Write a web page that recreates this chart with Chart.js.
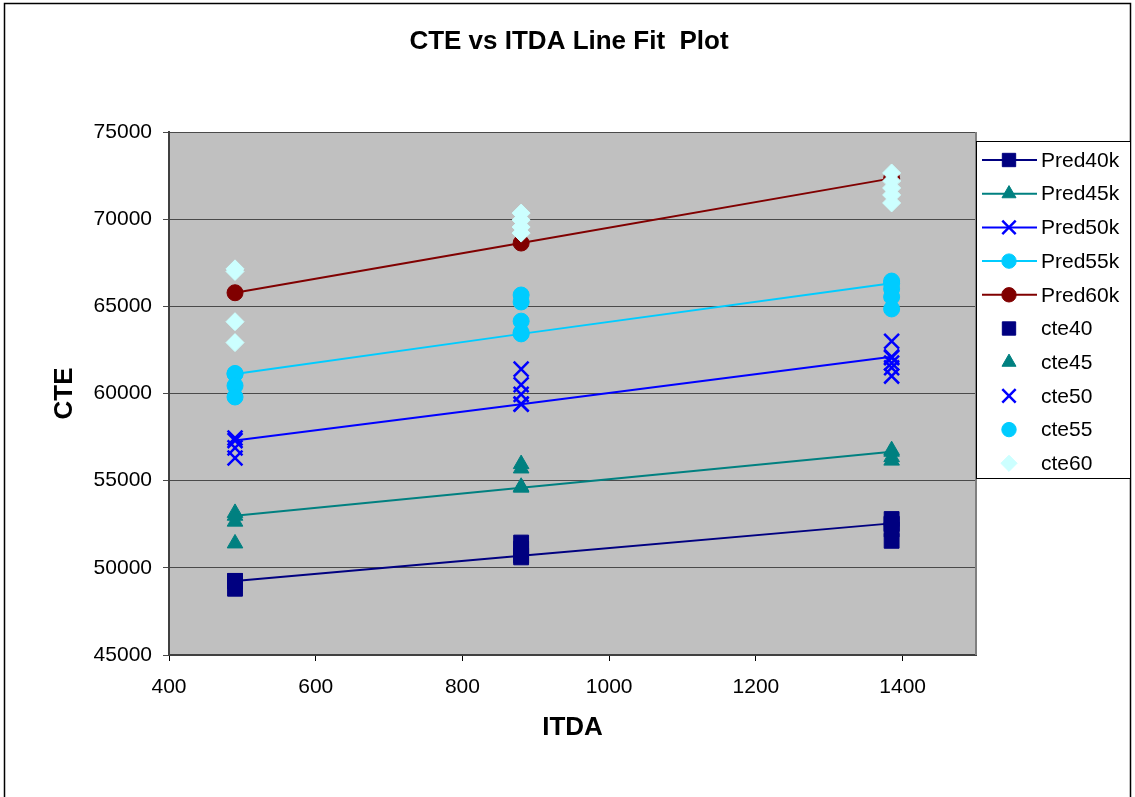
<!DOCTYPE html>
<html>
<head>
<meta charset="utf-8">
<script src="https://cdn.jsdelivr.net/npm/chart.js@4"></script>
<style>
  html, body { margin: 0; padding: 0; background: #fff; }
  #wrap { width: 1135px; height: 797px; }
</style>
</head>
<body>
<div id="wrap"><canvas id="cteChart"></canvas></div>
<script>
// ITDA values the samples were taken at
const itda = [490, 880, 1385];

// observed CTE, one list per ITDA column
const cte40 = [[49250, 48800], [51450, 51100, 50600], [52800, 52500, 52200, 51550]];
const cte45 = [[53150, 52650, 51400], [55950, 55700, 54650], [56750, 56350, 56150]];
const cte50 = [[57450, 56880, 56300], [61400, 60500, 59950, 59400], [63000, 62050, 61750, 61480, 61000]];
const cte55 = [[61150, 60450, 59800], [65650, 65250, 64150, 63500], [66450, 66000, 65540, 64850]];
const cte60 = [[67150, 67000, 64120, 62920], [70350, 69950, 69550, 69200], [72650, 72190, 71790, 71390, 70930]];

// fitted line values at each ITDA
const pred40 = [49250, 50700, 52550];
const pred45 = [52990, 54600, 56660];
const pred50 = [57300, 59380, 62110];
const pred55 = [61120, 63420, 66320];
const pred60 = [65780, 68630, 72340];

const xTicks = [400, 600, 800, 1000, 1200, 1400];
const yTicks = [45000, 50000, 55000, 60000, 65000, 70000, 75000];

const FONT = "'Liberation Sans', Arial, sans-serif";

const obs = cols => itda.flatMap((x, i) => cols[i].map(y => ({ x: x, y: y })));
const fit = vals => itda.map((x, i) => ({ x: x, y: vals[i] }));

function predSet(label, vals, color, style, r, bw) {
  return {
    label: label, data: fit(vals), showLine: true, order: 1,
    borderColor: color, backgroundColor: color, borderWidth: 2,
    pointStyle: style, pointRadius: r, pointBorderWidth: bw,
    pointBackgroundColor: color, pointBorderColor: color
  };
}
function cteSet(label, cols, color, style, r, bw) {
  return {
    label: label, data: obs(cols), showLine: false, order: 0,
    borderColor: color, backgroundColor: color,
    pointStyle: style, pointRadius: r, pointBorderWidth: bw,
    pointBackgroundColor: color, pointBorderColor: color
  };
}

const datasets = [
  predSet('Pred40k', pred40, '#000080', 'rect', 10.5, 1),
  predSet('Pred45k', pred45, '#008080', 'triangle', 9, 1),
  predSet('Pred50k', pred50, '#0000FF', 'crossRot', 10.5, 2.5),
  predSet('Pred55k', pred55, '#00CCFF', 'circle', 8, 1),
  predSet('Pred60k', pred60, '#800000', 'circle', 8, 1),
  cteSet('cte40', cte40, '#000080', 'rect', 10.5, 1),
  cteSet('cte45', cte45, '#008080', 'triangle', 9, 1),
  cteSet('cte50', cte50, '#0000FF', 'crossRot', 10.5, 2.5),
  cteSet('cte55', cte55, '#00CCFF', 'circle', 8, 1),
  cteSet('cte60', cte60, '#CCFFFF', 'rectRot', 9, 1)
];

// page frame, gray plot area, title and the boxed legend
const decor = {
  id: 'decor',
  beforeDraw(chart) {
    const ctx = chart.ctx, a = chart.chartArea;
    ctx.save();
    ctx.fillStyle = '#fff';
    ctx.fillRect(0, 0, chart.width, chart.height);
    ctx.strokeStyle = '#000';
    ctx.lineWidth = 1.5;
    ctx.strokeRect(4.5, 3.5, 1126, 820);
    ctx.fillStyle = '#C0C0C0';
    ctx.fillRect(a.left, a.top, a.right - a.left, a.bottom - a.top);
    ctx.fillStyle = '#000';
    ctx.font = 'bold 26px ' + FONT;
    ctx.textAlign = 'center';
    ctx.textBaseline = 'middle';
    ctx.fillText('CTE vs ITDA Line Fit  Plot', 569, 42);
    ctx.restore();
  },
  afterDraw(chart) {
    const ctx = chart.ctx, a = chart.chartArea;
    ctx.save();
    ctx.strokeStyle = '#808080';
    ctx.lineWidth = 2;
    ctx.beginPath();
    ctx.moveTo(a.right, a.top);
    ctx.lineTo(a.right, a.bottom);
    ctx.stroke();

    // legend box
    const lx = 976, ly = 141, lw = 154, lh = 337;
    ctx.fillStyle = '#fff';
    ctx.fillRect(lx, ly, lw, lh);
    ctx.strokeStyle = '#000';
    ctx.lineWidth = 1;
    ctx.strokeRect(lx + 0.5, ly + 0.5, lw, lh);
    ctx.font = '21px ' + FONT;
    ctx.textBaseline = 'middle';
    ctx.textAlign = 'left';
    chart.data.datasets.forEach((ds, i) => {
      const y = 160 + i * 33.7;
      if (ds.showLine) {
        ctx.strokeStyle = ds.borderColor;
        ctx.lineWidth = 2;
        ctx.beginPath();
        ctx.moveTo(982, y);
        ctx.lineTo(1037, y);
        ctx.stroke();
      }
      ctx.fillStyle = ds.pointBackgroundColor;
      ctx.strokeStyle = ds.pointBorderColor;
      ctx.lineWidth = ds.pointBorderWidth;
      Chart.helpers.drawPoint(ctx, {
        pointStyle: ds.pointStyle, radius: ds.pointRadius * 0.9, rotation: 0,
        borderWidth: ds.pointBorderWidth
      }, 1009, y);
      ctx.fillStyle = '#000';
      ctx.fillText(ds.label, 1041, y + 1);
    });
    ctx.restore();
  }
};

new Chart(document.getElementById('cteChart'), {
  type: 'scatter',
  data: { datasets: datasets },
  plugins: [decor],
  options: {
    responsive: true,
    maintainAspectRatio: false,
    animation: false,
    events: [],
    layout: { padding: { top: 132, left: 10, right: 159, bottom: 54 } },
    plugins: {
      legend: { display: false },
      title: { display: false },
      tooltip: { enabled: false }
    },
    scales: {
      x: {
        type: 'linear', min: 400, max: 1500,
        afterBuildTicks: s => { s.ticks = xTicks.map(v => ({ value: v })); },
        afterFit: s => { s.height = 88; },
        ticks: { color: '#000', font: { family: FONT, size: 21 }, padding: 14, callback: v => String(v) },
        grid: { drawOnChartArea: false, tickLength: 6, color: '#000' },
        border: { color: '#404040', width: 2 },
        title: {
          display: true, text: 'ITDA', color: '#000',
          font: { family: FONT, size: 26, weight: 'bold' },
          padding: { top: 12, bottom: 0 }
        }
      },
      y: {
        min: 45000, max: 75000,
        afterBuildTicks: s => { s.ticks = yTicks.map(v => ({ value: v })); },
        afterFit: s => { s.width = 159; },
        ticks: { color: '#000', font: { family: FONT, size: 21 }, padding: 11, callback: v => String(v) },
        grid: { color: '#4a4a4a', tickLength: 6, lineWidth: 1 },
        border: { color: '#404040', width: 2 },
        title: {
          display: true, text: 'CTE', color: '#000',
          font: { family: FONT, size: 26, weight: 'bold' },
          padding: { top: 39, bottom: 16 }
        }
      }
    }
  }
});
</script>
</body>
</html>
